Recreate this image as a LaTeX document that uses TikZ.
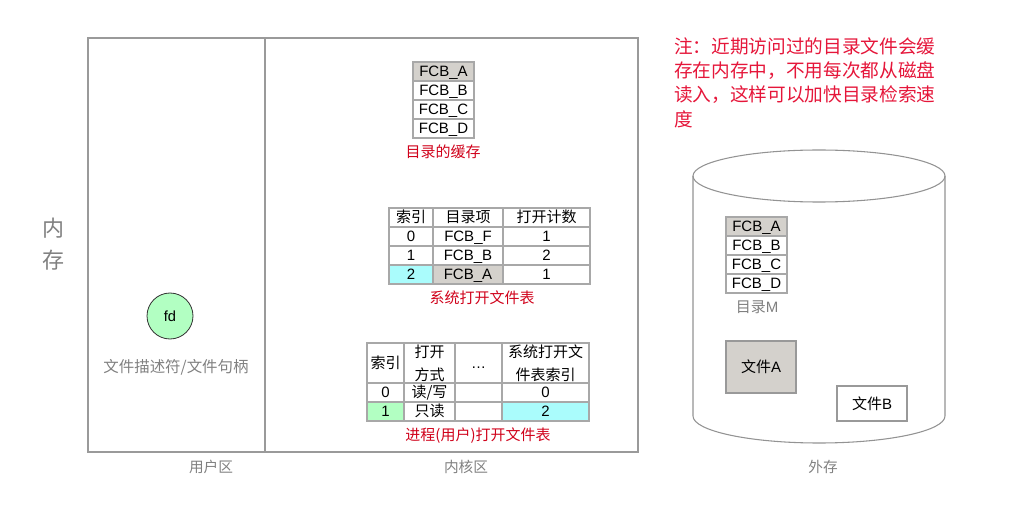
\documentclass[tikz,border=0pt]{standalone}
\usepackage{fontspec}
\setmainfont{Liberation Sans}
\newfontfamily\cjk{Noto Sans CJK SC}
\definecolor{tline}{HTML}{A8A8A8}
\definecolor{frame}{HTML}{9A9A9A}
\definecolor{gcell}{HTML}{D4D1CC}
\definecolor{ccell}{HTML}{AAFCFC}
\definecolor{fgreen}{HTML}{B2FFC2}
\definecolor{lred}{HTML}{D0021B}
\definecolor{nred}{HTML}{E5163A}
\definecolor{gtext}{HTML}{808080}
\newcommand\cellb[7]{%
  \filldraw[fill=#6, draw=tline, line width=0.8pt] (#2,#3) rectangle (#4,#5);
  \node[celltxt] (#1) at ({(#2+#4)/2},{(#3+#5)/2}) {#7};}
\newcommand\cellm[7]{%
  \filldraw[fill=#6, draw=tline, line width=0.8pt] (#2,#3) rectangle (#4,#5);
  \node[celltxtm] (#1) at ({(#2+#4)/2},{(#3+#5)/2}) {#7};}
\begin{document}
\begin{tikzpicture}[x=0.75pt,y=-0.75pt,
  celltxt/.style={inner sep=0pt, text height=8.1pt, text depth=0pt,
    font=\fontsize{11.25}{13}\selectfont},
  celltxtm/.style={inner sep=0pt, align=center, font=\fontsize{11.25}{17}\selectfont},
  redlabel/.style={inner sep=0pt, text=lred, font=\cjk\fontsize{11.25}{13}\selectfont},
  graylabel/.style={inner sep=0pt, text=gtext, font=\cjk\fontsize{11}{12}\selectfont}]
\useasboundingbox (0,0) rectangle (1025,531);
% main memory frame
\draw[frame, line width=0.9pt] (88,38) rectangle (638,452);
\draw[frame, line width=0.9pt] (265,38) -- (265,452);
\node[graylabel] (ua) at (211,467) {用户区};
\node[graylabel] (ka) at (466,467) {内核区};
\node[graylabel, font=\cjk\fontsize{16.5}{24}\selectfont, align=center] (mem) at (53,244) {内\\存};
% fd
\node[circle, draw=black!80, fill=fgreen, minimum size=34.5pt, inner sep=0pt, line width=0.6pt,
  font=\fontsize{11}{12}\selectfont] (fd) at (170,316) {fd};
\node[graylabel, font=\cjk\fontsize{11.6}{12}\selectfont] (fdl) at (176,367) {文件描述符/文件句柄};
% directory cache
\cellb{ca}{413}{62}{474}{81}{gcell}{FCB\_A}
\cellb{cb}{413}{81}{474}{100}{white}{FCB\_B}
\cellb{cc}{413}{100}{474}{119}{white}{FCB\_C}
\cellb{cd}{413}{119}{474}{138}{white}{FCB\_D}
\node[redlabel] (cachel) at (443,152) {目录的缓存};
% system open file table
\cellb{s00}{389}{208}{433}{227}{white}{\cjk 索引}
\cellb{s01}{433}{208}{503}{227}{white}{\cjk 目录项}
\cellb{s02}{503}{208}{590}{227}{white}{\cjk 打开计数}
\cellb{s10}{389}{227}{433}{246}{white}{0}
\cellb{s11}{433}{227}{503}{246}{white}{FCB\_F}
\cellb{s12}{503}{227}{590}{246}{white}{1}
\cellb{s20}{389}{246}{433}{265}{white}{1}
\cellb{s21}{433}{246}{503}{265}{white}{FCB\_B}
\cellb{s22}{503}{246}{590}{265}{white}{2}
\cellb{s30}{389}{265}{433}{284}{ccell}{2}
\cellb{s31}{433}{265}{503}{284}{gcell}{FCB\_A}
\cellb{s32}{503}{265}{590}{284}{white}{1}
\node[redlabel] (sysl) at (482,298) {系统打开文件表};
% process open file table
\cellb{p00}{367}{343}{404}{383}{white}{\cjk 索引}
\cellm{p01}{404}{343}{455}{383}{white}{\cjk 打开\\\cjk 方式}
\cellb{p02}{455}{343}{502}{383}{white}{…}
\cellm{p03}{502}{343}{589}{383}{white}{\cjk 系统打开文\\\cjk 件表索引}
\cellb{p10}{367}{383}{404}{402}{white}{0}
\cellb{p11}{404}{383}{455}{402}{white}{\cjk 读/写}
\cellb{p12}{455}{383}{502}{402}{white}{}
\cellb{p13}{502}{383}{589}{402}{white}{0}
\cellb{p20}{367}{402}{404}{421}{fgreen}{1}
\cellb{p21}{404}{402}{455}{421}{white}{\cjk 只读}
\cellb{p22}{455}{402}{502}{421}{white}{}
\cellb{p23}{502}{402}{589}{421}{ccell}{2}
\node[redlabel] (procl) at (478,436) {进程(用户)打开文件表};
% note
\node[anchor=north west, inner sep=0pt, align=left, text=nred,
  font=\cjk\fontsize{14}{18.3}\selectfont] (note) at (674,37)
  {注：近期访问过的目录文件会缓\\存在内存中，不用每次都从磁盘\\读入，这样可以加快目录检索速\\度};
% disk cylinder
\filldraw[fill=white, draw=gray!85, line width=0.8pt]
  (693,176) -- (693,416) arc[start angle=180, end angle=0, x radius=126, y radius=27]
  -- (945,176);
\draw[gray!85, line width=0.8pt] (819,176) ellipse[x radius=126, y radius=26];
\cellb{da}{726}{217}{787}{236}{gcell}{FCB\_A}
\cellb{db}{726}{236}{787}{255}{white}{FCB\_B}
\cellb{dc}{726}{255}{787}{274}{white}{FCB\_C}
\cellb{dd}{726}{274}{787}{293}{white}{FCB\_D}
\node[graylabel, font=\fontsize{11.25}{12}\selectfont] (dirm) at (757,307) {{\cjk 目录}M};
\filldraw[fill=gcell, draw=gray!80, line width=0.8pt] (726,341) rectangle (796,393);
\node[celltxt] (fa) at (761,367) {{\cjk 文件}A};
\filldraw[fill=white, draw=gray!80, line width=0.8pt] (837,386) rectangle (907,421);
\node[celltxt] (fb) at (872,404) {{\cjk 文件}B};
\node[graylabel] (ext) at (823,467) {外存};
\end{tikzpicture}
\end{document}
